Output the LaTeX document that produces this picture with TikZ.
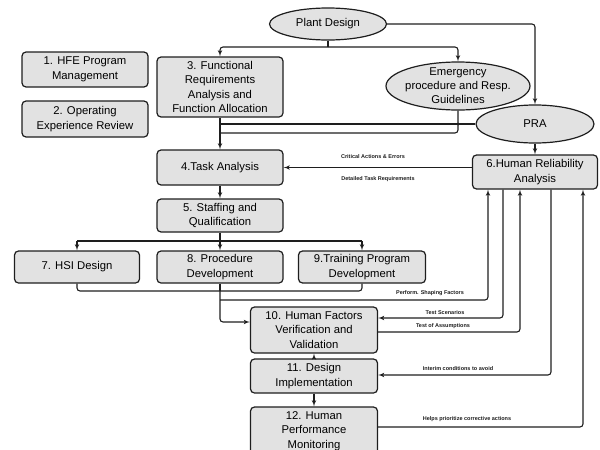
\documentclass[tikz,border=0pt]{standalone}
\usepackage{fontspec}
\setmainfont{Liberation Sans}
\usetikzlibrary{arrows,shapes.geometric,positioning}
\definecolor{boxgray}{RGB}{226,226,226}
\definecolor{inkgray}{RGB}{30,30,30}
\tikzset{
  stage/.style={draw=inkgray, fill=boxgray, line width=1.2pt, rounded corners=4pt, align=center,
                inner sep=0.5pt, font=\fontsize{11.3}{14.5}\selectfont},
  input/.style={ellipse, draw=inkgray, fill=boxgray, line width=1.2pt, align=center,
                inner sep=-20pt, font=\fontsize{11.3}{14}\selectfont},
  flow/.style={draw=inkgray, line width=1.1pt, rounded corners=3pt, -latex'},
  link/.style={draw=inkgray, line width=1.1pt, rounded corners=3pt},
  tag/.style={font=\fontsize{5.5}{6}\selectfont\bfseries, inner sep=0pt, text=inkgray}
}

\begin{document}
\begin{tikzpicture}[x=1pt, y=-1pt]
            \useasboundingbox (0,0) rectangle (600,450);

            % process boxes
            \node[stage, minimum width=126, minimum height=35] (hfe)  at ( 85, 69.5) {1. HFE Program\\Management};
            \node[stage, minimum width=126, minimum height=36] (oer)  at ( 85,119.0) {2. Operating\\Experience Review};
            \node[stage, minimum width=126, minimum height=60] (fra)  at (220, 87.0) {3. Functional\\Requirements\\Analysis and\\Function Allocation};
            \node[stage, minimum width=126, minimum height=35] (task) at (220,167.5) {4.Task Analysis};
            \node[stage, minimum width=126, minimum height=33] (stf)  at (220,215.5) {5. Staffing and\\Qualification};
            \node[stage, minimum width=125, minimum height=34] (hra)  at (535,172.0) {6.Human Reliability\\Analysis};
            \node[stage, minimum width=125, minimum height=32] (hsi)  at ( 77,267.0) {7. HSI Design};
            \node[stage, minimum width=126, minimum height=32] (proc) at (220,267.0) {8. Procedure\\Development};
            \node[stage, minimum width=127, minimum height=32] (trn)  at (362,267.0) {9.Training Program\\Development};
            \node[stage, minimum width=127, minimum height=46] (vv)   at (314,330.0) {10. Human Factors\\Verification and\\Validation};
            \node[stage, minimum width=127, minimum height=34] (impl) at (314,376.0) {11. Design\\Implementation};
            \node[stage, minimum width=127, minimum height=48] (mon)  at (314,431.0) {12. Human\\Performance\\Monitoring};

            % inputs
            \node[input, minimum width=117, minimum height=32] (plant) at (328, 24) {Plant Design};
            \node[input, minimum width=144, minimum height=48] (eop)   at (458, 86) {Emergency\\procedure and Resp.\\Guidelines};
            \node[input, minimum width=118, minimum height=38] (pra)   at (535,124) {PRA};

            % helper rows and columns
            \coordinate (r47)  at (0, 47);
            \coordinate (r133) at (0,133);
            \coordinate (r241) at (0,241);
            \coordinate (r291) at (0,291);
            \coordinate (r300) at (0,300);
            \coordinate (r318) at (0,318);
            \coordinate (r322) at (0,322);
            \coordinate (r332) at (0,332);
            \coordinate (r375) at (0,375);
            \coordinate (r427) at (0,427);
            \coordinate (c1) at (488,0);
            \coordinate (c2) at (503,0);
            \coordinate (c3) at (520,0);
            \coordinate (c4) at (551,0);
            \coordinate (c5) at (583,0);

            % top part
            \draw[link] (plant.south) -- (plant.south |- r47);
            \draw[flow] (plant.south |- r47) -| (fra.north);
            \draw[flow] (plant.south |- r47) -| (eop.north);
            \draw[flow] (plant.east) -| (pra.north);
            \draw[flow] (fra.south) -- (task.north);
            \draw[link] (pra.west) -- (fra.south |- pra.west);
            \draw[link] (eop.south) |- (fra.south |- r133);
            \fill[inkgray] (eop.south |- pra.west) circle (1.5);
            \draw[flow] (pra.south) -- (hra.north);

            % hra to task analysis
            \draw[flow] (hra.west |- task.east) -- (task.east);
            \node[tag] (cae) at (373,157) {Critical Actions \& Errors};
            \node[tag] (dtr) at (378,179) {Detailed Task Requirements};

            % staffing split and merge
            \draw[flow] (task.south) -- (stf.north);
            \draw[link] (stf.south) -- (stf.south |- r241);
            \draw[link] (hsi.north |- r241) -- (trn.north |- r241);
            \draw[flow] (hsi.north |- r241) -- (hsi.north);
            \draw[flow] (proc.north |- r241) -- (proc.north);
            \draw[flow] (trn.north |- r241) -- (trn.north);
            \draw[link] (hsi.south) |- (trn.south |- r291) -- (trn.south);
            \draw[link] (proc.south) -- (proc.south |- r291);
            \draw[flow] (proc.south |- r291) |- (vv.west |- r322);

            % hra feedback loops
            \draw[flow] (proc.south |- r300) -| (hra.south -| c1);
            \node[tag] (psf) at (430,293) {Perform. Shaping Factors};
            \draw[flow] (hra.south -| c2) |- (vv.east |- r318);
            \node[tag] (tsc) at (445,313) {Test Scenarios};
            \draw[flow] (vv.east |- r332) -| (hra.south -| c3);
            \node[tag] (toa) at (443,326) {Test of Assumptions};
            \draw[flow] (impl.south) -- (mon.north);
            \draw[flow] (impl.north) -- (vv.south);
            \draw[flow] (hra.south -| c4) |- (impl.east |- r375);
            \node[tag] (ica) at (458,369) {Interim conditions to avoid};
            \draw[flow] (mon.east |- r427) -| (hra.south -| c5);
            \node[tag] (hpc) at (467,419) {Helps prioritize corrective actions};
        \end{tikzpicture}
\end{document}
